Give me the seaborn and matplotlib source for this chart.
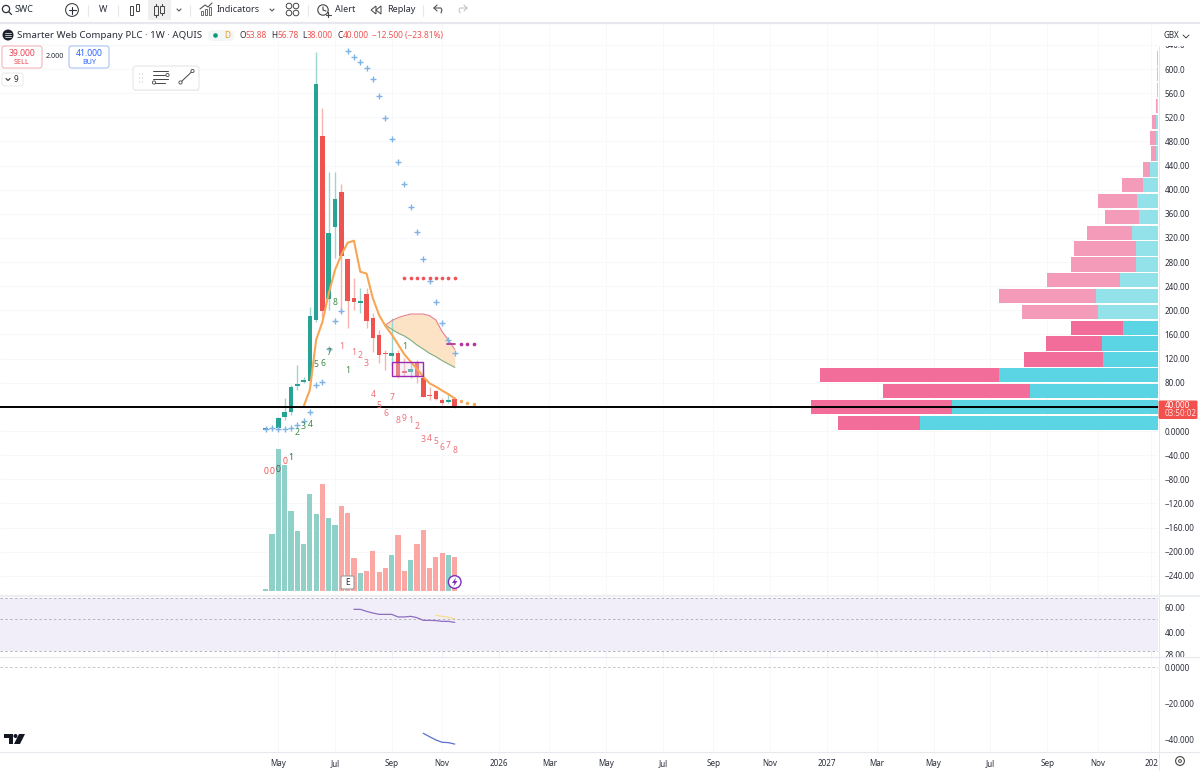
import matplotlib
matplotlib.use("Agg")
import matplotlib.pyplot as plt
from matplotlib.patches import Circle, FancyBboxPatch, Polygon, Rectangle
import seaborn as sns

# candles, one row per week
opens = [2.2, 3.3, 4.4, 23.8, 32, 74.6, 81, 83.4, 184, 489, 218.8, 338.7, 395.6, 284.5, 220, 212.7,
         226.5, 187.8, 159, 129.8, 124.9, 129.8, 98.9, 97.8, 113.3, 87.3, 60.2, 65.7, 50.8, 48.6, 53.88]
highs = [5, 6, 23.8, 54, 76, 109.4, 90, 205, 628.8, 534.8, 429.9, 430, 408.9, 285, 254, 236.5,
         237.6, 195, 167.4, 134, 186.7, 134, 120.4, 112, 117.7, 101, 73.5, 68, 54, 62.4, 56.78]
lows = [2, 3, 0.5, 18.2, 26.5, 68, 79, 76, 181, 189.5, 200.5, 286, 195, 171, 200.5, 195,
        171, 131.5, 112, 101, 109.4, 87.3, 90, 87.3, 79, 55.8, 51.4, 51.4, 43, 47, 38]
closes = [4.4, 5.5, 21, 31, 72.4, 78, 84, 190.6, 575.2, 199.4, 327.6, 384.6, 290, 215.5, 214, 215.5,
          182.3, 154.7, 125.4, 127, 129.3, 91.1, 95.6, 102.2, 91.1, 56.9, 58.6, 52.5, 47, 52, 40]
volumes = [5, 169, 425, 377, 239, 180, 141, 289, 230, 319, 217, 197, 253, 232, 97, 53,
           60, 119, 57, 67, 107, 166, 59, 92, 141, 183, 67, 100, 113, 108, 100]
weeks = list(range(len(opens)))

ema_weeks = list(range(6, 31))
ema = [40.3, 68, 150.8, 181, 228, 267, 292, 312, 315.5, 264, 261, 220, 192, 174, 160, 143.6,
       127, 115, 103, 90, 79, 73.5, 67, 61, 54]
ema_future_weeks = [31, 32, 33]
ema_future = [49.7, 46.4, 44.8]

sar_high_weeks = list(range(13, 31))
sar_high = [629.3, 619.9, 611.1, 602.2, 583.5, 555.3, 518.8, 484.6, 445.3, 409.4, 370.7, 329.3,
            285.6, 249.2, 213.3, 179, 151.4, 128.7]
sar_low_weeks = list(range(0, 13))
sar_low = [3.3, 5, 3.3, 2.8, 4.4, 10.5, 16.6, 32, 76.8, 80.7, 135.4, 182.3, 199.4]

resistance_weeks = list(range(22, 31))
resistance = [253.6] * 9
support_weeks = [31, 32, 33]
support = [145, 145, 145]

cloud_weeks = list(range(19, 31))
cloud_top = [175.7, 182.9, 187.8, 191.2, 193.9, 193.9, 193.9, 191.2, 184, 164.6, 150.8, 135.4]
cloud_bottom = [175.7, 168.5, 162.4, 157.5, 150.8, 142.5, 135.9, 128.7, 123.2, 116.6, 111, 105.5]

# td counts
td_green_weeks = [5, 6, 7, 8, 9, 10, 11, 13, 22]
td_green_prices = [-1.7, 7.2, 10, 110.5, 112, 129.8, 213.3, 101, 140.9]
td_green_labels = ["2", "3", "4", "5", "6", "7", "8", "1", "1"]
td_red_weeks = [12, 14, 15, 16, 17, 18, 19, 20, 21, 22, 23, 24, 25, 26, 27, 28, 29, 30]
td_red_prices = [140.3, 130.4, 124.9, 112, 60.2, 43, 29.8, 55.8, 18.2, 21.5, 17.1, 7.2,
                 -13.8, -12.7, -17.7, -27.1, -23.8, -31.5]
td_red_labels = ["1", "1", "2", "3", "4", "5", "6", "7", "8", "9", "1", "2", "3", "4", "5", "6", "7", "8"]
zero_weeks = [0, 1, 2, 3, 4]
zero_prices = [-66.3, -66.3, -64, -50.8, -43.1]
zero_labels = ["0", "0", "0", "0", "1"]
zero_colors = ["#ef5350", "#ef5350", "#555555", "#ef5350", "#2e6b3a"]

# volume profile, bottom row first
profile_prices = [13.6, 39.9, 66.1, 92.4, 118.6, 144.9, 171.1, 197.4, 223.6, 249.9, 276.1, 302.4,
                  328.6, 354.9, 381.1, 407.4, 433.6, 459.9, 486.1, 512.4, 538.6, 564.9, 591.1, 617.4]
profile_up = [238, 206, 128, 159, 55, 56, 35, 60, 62, 38, 22, 22, 26, 19, 21, 15, 8, 2, 2, 2, 1.5, 1.5, 1.5, 1.5]
profile_down = [82, 141, 147, 179, 79, 56, 52, 76, 97, 73, 65, 62, 45, 34, 39, 21, 7, 5, 6, 4, 1, 0, 0, 0]
profile_area = ["in"] * 7 + ["out"] * 17

rsi_weeks = list(range(14, 31))
rsi = [58.7, 58.7, 56.8, 55.3, 54.1, 54.1, 54.1, 51.9, 51.9, 52.4, 51.3, 49.1, 49.1, 48.9, 48.3, 48.3, 47.5]
rsi_ma_weeks = [27, 28, 29, 30]
rsi_ma = [53.3, 52.4, 51.6, 50.5]
osc_weeks = [25, 26, 27, 28, 29, 30]
osc = [-36.8, -38.7, -40.5, -41.8, -42, -42.8]

month_weeks = [2, 11, 20, 28, 37, 45, 54, 63, 71, 80, 89, 97, 106, 115, 124, 132, 140.5]
month_labels = ["May", "Jul", "Sep", "Nov", "2026", "Mar", "May", "Jul", "Sep", "Nov", "2027",
                "Mar", "May", "Jul", "Sep", "Nov", "202"]
price_ticks = [640, 600, 560, 520, 480, 440, 400, 360, 320, 280, 240, 200, 160, 120, 80, 40, 0,
               -40, -80, -120, -160, -200, -240]
price_tick_labels = ["640.0", "600.0", "560.0", "520.0", "480.00", "440.00", "400.00", "360.00", "320.00",
                     "280.00", "240.00", "200.00", "160.00", "120.00", "80.00", "", "0.0000",
                     "−40.00", "−80.00", "−120.00", "−160.00", "−200.00", "−240.00"]

GREEN = "#27a393"
RED = "#ef5350"
TEXT = "#2a2e39"
LINE = "#e6e8ee"
FAINT = "#f7f8fa"
FONT = "Noto Sans"

sns.set_theme(style="white")
plt.rcParams["font.family"] = [FONT, "DejaVu Sans"]

W, H = 1200, 771
fig = plt.figure(figsize=(12, 7.71), dpi=100, facecolor="white")


def box(top, bottom, left=0, right=1158):
    return [left / W, 1 - bottom / H, (right - left) / W, (bottom - top) / H]


XLIM = (-42.17, 141.6)

# panes
grid_ax = fig.add_axes(box(24, 595), zorder=0)
price_ax = fig.add_axes(box(24, 595), zorder=4, sharex=grid_ax, sharey=grid_ax)
profile_ax = price_ax.twiny()
volume_ax = price_ax.twinx()
profile_ax.set_zorder(1)
volume_ax.set_zorder(2)
price_ax.patch.set_visible(False)
profile_ax.patch.set_visible(False)
volume_ax.patch.set_visible(False)
rsi_ax = fig.add_axes(box(597, 657), sharex=grid_ax)
osc_ax = fig.add_axes(box(657, 752), sharex=grid_ax)

# volume profile grows from the right edge
totals = [u + d for u, d in zip(profile_up, profile_down)]
sns.barplot(x=totals, y=profile_prices, hue=profile_area, hue_order=["in", "out"],
            palette={"in": "#f26d9a", "out": "#f59bba"}, orient="y", native_scale=True,
            dodge=False, width=0.9, legend=False, saturation=1, linewidth=0, ax=profile_ax)
sns.barplot(x=profile_up, y=profile_prices, hue=profile_area, hue_order=["in", "out"],
            palette={"in": "#5bd4e4", "out": "#93e2ea"}, orient="y", native_scale=True,
            dodge=False, width=0.9, legend=False, saturation=1, linewidth=0, ax=profile_ax)

# volume bars
directions = ["up" if c >= o else "down" for o, c in zip(opens, closes)]
sns.barplot(x=weeks, y=volumes, hue=directions, hue_order=["up", "down"],
            palette={"up": "#8fd1c9", "down": "#fba8a4"}, native_scale=True,
            dodge=False, width=0.82, legend=False, saturation=1, linewidth=0, ax=volume_ax)

# candles
for w, o, h, l, c, d in zip(weeks, opens, highs, lows, closes, directions):
    price_ax.vlines(w, l, h, color="#9ad6cf" if d == "up" else "#f7b4b1", lw=1.0, zorder=2)
    price_ax.bar(w, abs(c - o), bottom=min(o, c), width=0.74, color=GREEN if d == "up" else RED,
                 linewidth=0, zorder=3)

# cloud and lines on top of candles
price_ax.fill_between(cloud_weeks, cloud_bottom, cloud_top, color="#fce3c6", lw=0, zorder=1.5)
sns.lineplot(x=cloud_weeks, y=cloud_top, color="#e8808e", lw=0.8, ax=price_ax, zorder=4)
sns.lineplot(x=cloud_weeks, y=cloud_bottom, color="#7fae7f", lw=0.8, ax=price_ax, zorder=4)
sns.lineplot(x=ema_weeks, y=ema, color="#f7a654", lw=1.5, ax=price_ax, zorder=5)
sns.scatterplot(x=ema_future_weeks, y=ema_future, color="#f7a654", s=6, lw=0, ax=price_ax, zorder=5)
sns.scatterplot(x=sar_high_weeks, y=sar_high, color="#7fb2e5", marker="+", s=16, linewidth=1, ax=price_ax, zorder=5)
sns.scatterplot(x=sar_low_weeks, y=sar_low, color="#7fb2e5", marker="+", s=16, linewidth=1, ax=price_ax, zorder=5)
sns.scatterplot(x=resistance_weeks, y=resistance, color="#f0525c", s=7, lw=0, ax=price_ax, zorder=5)
sns.scatterplot(x=support_weeks, y=support, color="#b5339f", s=7, lw=0, ax=price_ax, zorder=5)
price_ax.plot([28.8, 30], [143.6, 143.6], color="#b5339f", lw=1.3, zorder=5)
price_ax.add_patch(Rectangle((20, 91.1), 5, 23.3, fc="#e9d5f5", alpha=0.35, ec="none", zorder=4))
price_ax.add_patch(Rectangle((20, 91.1), 5, 23.3, fill=False, ec="#9c27b0", lw=1, zorder=5))
price_ax.axhline(39, color="black", lw=1.4, zorder=6)

for xs, ys, labels, color in [(td_green_weeks, td_green_prices, td_green_labels, "#3c8c46"),
                              (td_red_weeks, td_red_prices, td_red_labels, "#f0707a")]:
    for x, y, s in zip(xs, ys, labels):
        price_ax.text(x, y, s, color=color, fontsize=6.2, ha="center", va="center", zorder=7)
for x, y, s, color in zip(zero_weeks, zero_prices, zero_labels, zero_colors):
    price_ax.text(x, y, s, color=color, fontsize=6.2, ha="center", va="center", zorder=7)

# rsi pane
rsi_ax.set_yscale("log")
rsi_ax.axhspan(30, 70, color="#f1edf9", lw=0)
for level in [70, 50, 30]:
    rsi_ax.axhline(level, color="#b4b4bc", lw=0.7, ls=(0, (2.5, 2.5)))
sns.lineplot(x=rsi_weeks, y=rsi, color="#8e6fc0", lw=0.9, ax=rsi_ax)
sns.lineplot(x=rsi_ma_weeks, y=rsi_ma, color="#f5e088", lw=0.9, ax=rsi_ax)

# bottom oscillator
osc_ax.axhline(0, color="#c4c4cc", lw=0.7, ls=(0, (2.5, 2.5)))
sns.lineplot(x=osc_weeks, y=osc, color="#5a6fd0", lw=0.9, ax=osc_ax)

# scales
grid_ax.set_xlim(*XLIM)
grid_ax.set_ylim(-271.8, 674.6)
profile_ax.set_xlim(1158, 0)
volume_ax.set_ylim(-13, 1700)
rsi_ax.set_ylim(27.1, 71.7)
osc_ax.set_ylim(-47.2, 5.6)

grid_ax.set_xticks(month_weeks)
grid_ax.set_yticks(price_ticks)
grid_ax.grid(True, color=FAINT, lw=0.7)
osc_ax.grid(True, axis="x", color=FAINT, lw=0.7)
rsi_ax.grid(True, axis="x", color="#eeeaf6", lw=0.7)
grid_ax.tick_params(left=False, bottom=False, labelleft=False, labelbottom=False)

for ax in [price_ax, profile_ax, volume_ax]:
    ax.set_xlabel("")
    ax.set_ylabel("")
profile_ax.tick_params(top=False, bottom=False, labeltop=False, labelbottom=False)
volume_ax.tick_params(right=False, labelright=False)
price_ax.tick_params(left=False, bottom=False, labelleft=False, labelbottom=False)

TICK_FONT = 5.8
price_ax.set_yticks(price_ticks, labels=price_tick_labels, fontsize=TICK_FONT, color=TEXT)
price_ax.tick_params(axis="y", length=0, pad=4.6, left=False, right=False, labelleft=False, labelright=True)

rsi_ax.yaxis.tick_right()
rsi_ax.minorticks_off()
rsi_ax.set_yticks([60, 40, 28], labels=["60.00", "40.00", "28.00"], fontsize=TICK_FONT, color=TEXT)
rsi_ax.tick_params(axis="y", length=0, pad=4.6, which="both")
rsi_ax.tick_params(axis="x", length=0, labelbottom=False)
osc_ax.yaxis.tick_right()
osc_ax.set_yticks([0, -20, -40], labels=["0.0000", "−20.000", "−40.000"], fontsize=TICK_FONT, color=TEXT)
osc_ax.tick_params(axis="y", length=0, pad=4.6)
osc_ax.set_xticks(month_weeks, labels=month_labels, fontsize=TICK_FONT, color=TEXT)
osc_ax.tick_params(axis="x", length=0, pad=5)
for tick in osc_ax.get_xticklabels():
    if tick.get_text().startswith("202"):
        tick.set_fontweight("bold")

for ax in [grid_ax, price_ax, profile_ax, volume_ax, rsi_ax, osc_ax]:
    for spine in ax.spines.values():
        spine.set_visible(False)

# everything around the panes, in pixel coordinates
ui = fig.add_axes([0, 0, 1, 1], zorder=10)
ui.set_xlim(0, W)
ui.set_ylim(H, 0)
ui.axis("off")


def label(x, y, s, size=6.5, color=TEXT, ha="left", weight="normal"):
    ui.text(x, y, s, fontsize=size, color=color, ha=ha, va="center", fontweight=weight, zorder=5)


def stroke(xs, ys, color=TEXT, lw=0.8):
    ui.plot(xs, ys, color=color, lw=lw, solid_capstyle="round")


def rounded(x0, y0, x1, y1, ec, fc="white", r=2.5, lw=0.8, z=2):
    ui.add_patch(FancyBboxPatch((x0, y0), x1 - x0, y1 - y0, boxstyle=f"round,pad=0,rounding_size={r}",
                                ec=ec, fc=fc, lw=lw, zorder=z))


# pane borders
ui.plot([0, W], [23, 23], color=LINE, lw=1.6)
ui.plot([1158.5, 1158.5], [23, H], color=LINE, lw=0.7)
ui.plot([0, W], [596, 596], color="#eceef2", lw=1.6)
ui.plot([0, W], [657, 657], color=LINE, lw=0.8)
ui.plot([0, W], [752, 752], color=LINE, lw=0.8)
ui.add_patch(Rectangle((1159, 24), 41, 21.5, fc="white", ec="none", zorder=3))
label(1164, 36, "GBX", size=5.8)
ui.plot([1183, 1186, 1189], [35, 38, 35], color=TEXT, lw=0.6, zorder=4)

# toolbar
ui.add_patch(Rectangle((148, 0), 23, 20, fc="#efefef", ec="none"))
for x in [88, 118, 190, 308, 423]:
    stroke([x, x], [5, 16], color="#e8e8ea")
ui.add_patch(Circle((6, 9), 3.6, fill=False, ec=TEXT, lw=0.9))
stroke([8.7, 11.5], [11.7, 14.5], lw=0.9)
label(15, 10, "SWC", weight="bold")
ui.add_patch(Circle((72, 10), 6.4, fill=False, ec="#444444", lw=0.8))
stroke([72, 72], [6.5, 13.5])
stroke([68.5, 75.5], [10, 10])
label(103, 10, "W", ha="center", weight="bold")
for x0, y0, y1 in [(131, 6, 15), (137, 4, 11)]:
    ui.add_patch(Rectangle((x0 - 1.5, y0), 3, y1 - y0, fill=False, ec="#444444", lw=0.7))
for x0, y0, y1 in [(156, 6, 15), (162, 6, 13)]:
    stroke([x0, x0], [y0 - 2, y1 + 2], color="#444444")
    ui.add_patch(Rectangle((x0 - 1.7, y0), 3.4, y1 - y0, fc="#efefef", ec="#444444", lw=0.7, zorder=3))
for x in [179, 272]:
    stroke([x - 2, x, x + 2], [9, 11, 9], color="#555555")
for x0, h in [(202, 4), (206, 6), (210, 8)]:
    ui.add_patch(Rectangle((x0 - 1.2, 15 - h), 2.4, h, fill=False, ec="#555555", lw=0.6))
stroke([200, 205, 208, 212], [9, 5, 7, 3], color="#555555")
label(217, 10, "Indicators")
for x in [289, 296]:
    for y in [6, 13]:
        ui.add_patch(Circle((x, y), 2.8, fill=False, ec="#444444", lw=0.7))
ui.add_patch(Circle((323, 10), 5.2, fill=False, ec="#444444", lw=0.8))
stroke([323, 323, 326], [7, 10, 11], color="#444444")
stroke([328, 328], [12, 17], color="#444444")
stroke([325.5, 330.5], [14.5, 14.5], color="#444444")
label(335, 10, "Alert")
for x in [371, 376]:
    ui.add_patch(Polygon([(x + 5, 6), (x, 10), (x + 5, 14)], closed=True, fill=False, ec="#444444", lw=0.7))
label(387, 10, "Replay")
stroke([434, 441, 442, 441], [8, 8, 10, 13], color="#555555")
stroke([434, 437], [8, 5], color="#555555")
stroke([434, 437], [8, 11], color="#555555")
stroke([467, 460, 459, 460], [8, 8, 10, 13], color="#c4c4c8")
stroke([467, 464], [8, 5], color="#c4c4c8")
stroke([467, 464], [8, 11], color="#c4c4c8")

# legend line
ui.add_patch(Circle((8, 35), 5.5, fc="#1e222d", ec="none"))
for y in [33, 35, 37]:
    ui.plot([5, 11], [y, y], color="white", lw=0.5)
label(17, 35.5, "Smarter Web Company PLC · 1W · AQUIS", size=7)
rounded(208, 30, 234, 41, "none", fc="#f2f6f4", r=5)
ui.add_patch(Circle((215.5, 35.5), 2.3, fc="#089981", ec="none", zorder=3))
label(227, 35.5, "D", size=6, color="#f09a37", ha="center")
for x, s in [(240, "O"), (271, "H"), (302, "L"), (337, "C")]:
    label(x, 35.5, s, size=6)
for x, s in [(246, "53.88"), (278, "56.78"), (307, "38.000"), (343, "40.000"), (372, "−12.500 (−23.81%)")]:
    label(x, 35.5, s, size=6, color=RED)

# order buttons
rounded(2, 46, 42, 68, "#f5b5bd")
label(22, 53, "39.000", size=6.2, color="#e8414f", ha="center")
label(22, 62, "SELL", size=5.2, color="#e8414f", ha="center")
label(55, 57, "2.000", size=5.2, ha="center")
rounded(69, 46, 109, 68, "#a9c3f5")
label(89, 53, "41.000", size=6.2, color="#2962ff", ha="center")
label(89, 62, "BUY", size=5.2, color="#2962ff", ha="center")
rounded(2, 73, 23, 86, "#ececee")
stroke([6, 8, 10], [78.5, 80.5, 78.5], color="#333333")
label(14, 79.5, "9", size=6, weight="bold")

# floating tools box
rounded(133, 66, 199, 90, "#ececee", r=3, lw=1)
ui.add_patch(Rectangle((134, 89), 65, 2, fc="#f1f1f3", ec="none", zorder=1))
for x in [139.5, 142.5]:
    for y in [74, 78, 82]:
        ui.add_patch(Circle((x, y), 0.6, fc="#c8c8cc", ec="none", zorder=3))
for y, x1 in [(71, 168), (75, 165), (79, 168), (83, 165)]:
    ui.plot([153, x1], [y, y], color="#444444", lw=0.7, zorder=3)
ui.add_patch(Circle((167.5, 75), 1.6, fc="white", ec="#444444", lw=0.6, zorder=4))
ui.add_patch(Circle((154, 82.5), 1.6, fc="white", ec="#444444", lw=0.6, zorder=4))
ui.plot([181, 192], [82, 71.5], color="#444444", lw=0.7, zorder=3)
ui.add_patch(Circle((180.5, 82.5), 1.6, fc="white", ec="#444444", lw=0.6, zorder=4))
ui.add_patch(Circle((192.5, 71), 1.6, fc="white", ec="#444444", lw=0.6, zorder=4))

# chart badges
rounded(341, 576, 354, 589, "#9a9a9a", r=1.5, lw=0.8)
label(347.5, 582.5, "E", size=6, ha="center", weight="bold")
ui.add_patch(Circle((454.7, 582), 6.3, fc="white", ec="#7b2fbe", lw=1, zorder=3))
ui.add_patch(Polygon([(456, 577.5), (452, 583), (454.5, 583), (453.5, 586.5), (457.5, 581), (455, 581)],
                     closed=True, fc="#7b2fbe", ec="none", zorder=4))

# last price tag
ui.add_patch(FancyBboxPatch((1158.5, 400.5), 39, 18.5, boxstyle="round,pad=0,rounding_size=1.5",
                            fc="#f1504d", ec="none", zorder=3))
label(1165, 405.5, "40.000", size=5.8, color="white")
label(1165, 414, "03:50:02", size=5.8, color="#ffdcd8")

# logo and settings
ui.add_patch(Polygon([(4, 734), (13, 734), (13, 744), (9, 744), (9, 738), (4, 738)], closed=True, fc="#131722", ec="none"))
ui.add_patch(Circle((15.5, 736), 2, fc="#131722", ec="none"))
ui.add_patch(Polygon([(19, 734), (25, 734), (20, 744), (14, 744)], closed=True, fc="#131722", ec="none"))
ui.add_patch(Circle((1180, 761), 4.4, fill=False, ec="#444444", lw=0.8))
ui.add_patch(Circle((1180, 761), 1.4, fill=False, ec="#444444", lw=0.7))

fig.savefig("out.png", dpi=100)
plt.close(fig)
